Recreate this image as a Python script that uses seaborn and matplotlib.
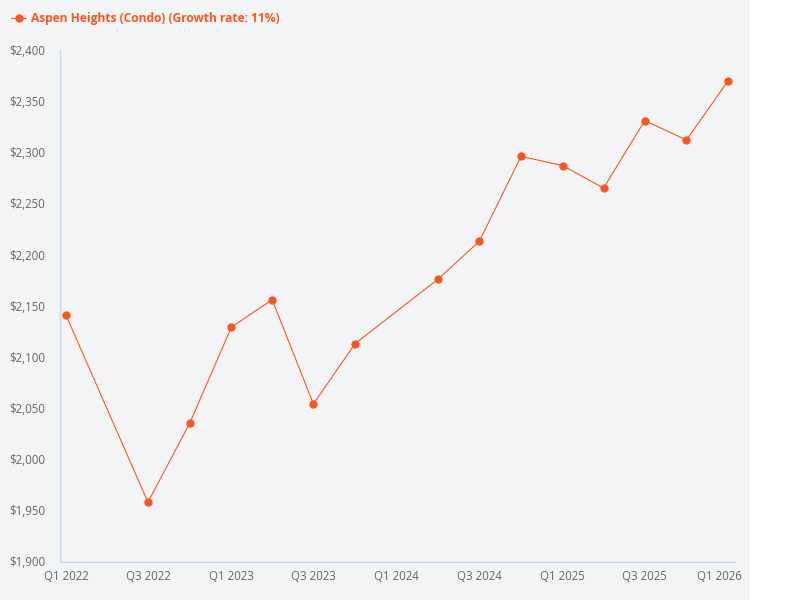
import matplotlib
matplotlib.use("Agg")
import matplotlib.pyplot as plt
import matplotlib.transforms as mtransforms
from matplotlib.patches import Rectangle
import pandas as pd
import seaborn as sns

quarters = ["2022-01-01", "2022-07-01", "2022-10-01", "2023-01-01", "2023-04-01",
            "2023-07-01", "2023-10-01", "2024-04-01", "2024-07-01", "2024-10-01",
            "2025-01-01", "2025-04-01", "2025-07-01", "2025-10-01", "2026-01-01"]
prices = [2141, 1958, 2035, 2129, 2156, 2054, 2113, 2176, 2213, 2296,
          2287, 2265, 2331, 2312, 2370]
tick_dates = ["2022-01-01", "2022-07-01", "2023-01-01", "2023-07-01", "2024-01-01",
              "2024-07-01", "2025-01-01", "2025-07-01", "2026-01-01"]
tick_labels = ["Q1 2022", "Q3 2022", "Q1 2023", "Q3 2023", "Q1 2024",
               "Q3 2024", "Q1 2025", "Q3 2025", "Q1 2026"]
y_ticks = [1900, 1950, 2000, 2050, 2100, 2150, 2200, 2250, 2300, 2350, 2400]
series_name = "Aspen Heights (Condo) (Growth rate: 11%)"

df = pd.DataFrame({"date": pd.to_datetime(quarters), "price": prices})

sns.set_theme(style="white")
plt.rcParams["font.family"] = ["Open Sans", "DejaVu Sans"]

BG = "#f3f4f6"
COLOR = "#ff5722"
AXIS = "#ccd6eb"
TEXT = "#666666"

fig = plt.figure(figsize=(8, 6), dpi=100, facecolor="white")
fig.patches.append(Rectangle((0, 0), 750 / 800, 1, transform=fig.transFigure,
                             facecolor=BG, edgecolor="none", zorder=-10))
ax = fig.add_axes([60 / 800, (600 - 561.5) / 600, 675 / 800, 511.5 / 600])
ax.set_facecolor(BG)

sns.lineplot(data=df, x="date", y="price", ax=ax, color=COLOR, linewidth=0.8,
             marker="o", markersize=6, markeredgewidth=0, label=series_name,
             clip_on=False)

ax.set_xlim(pd.Timestamp("2021-12-19"), pd.Timestamp("2026-01-16"))
ax.set_ylim(1900, 2400)
ax.set_xticks(pd.to_datetime(tick_dates))
ax.set_xticklabels(tick_labels)
ax.set_yticks(y_ticks)
ax.set_yticklabels([f"${v:,}" for v in y_ticks])
ax.tick_params(axis="both", length=0, labelsize=8.3, colors=TEXT)
ax.tick_params(axis="x", pad=6)
ax.tick_params(axis="y", pad=10.5)
last = ax.get_xticklabels()[-1]
last.set_transform(last.get_transform() +
                   mtransforms.ScaledTranslation(-9 / 100, 0, fig.dpi_scale_trans))
for s in ["top", "right"]:
    ax.spines[s].set_visible(False)
for s in ["left", "bottom"]:
    ax.spines[s].set_color(AXIS)
    ax.spines[s].set_linewidth(1)
ax.set_xlabel("")
ax.set_ylabel("")
ax.grid(False)

leg = ax.legend(loc="upper left", bbox_to_anchor=(0, 1 - 1 / 600),
                bbox_transform=fig.transFigure, frameon=False,
                handlelength=1.3, handletextpad=0.4, labelcolor=COLOR,
                prop={"weight": "bold", "size": 8.65})

fig.savefig("out.png", dpi=100, facecolor=fig.get_facecolor())
